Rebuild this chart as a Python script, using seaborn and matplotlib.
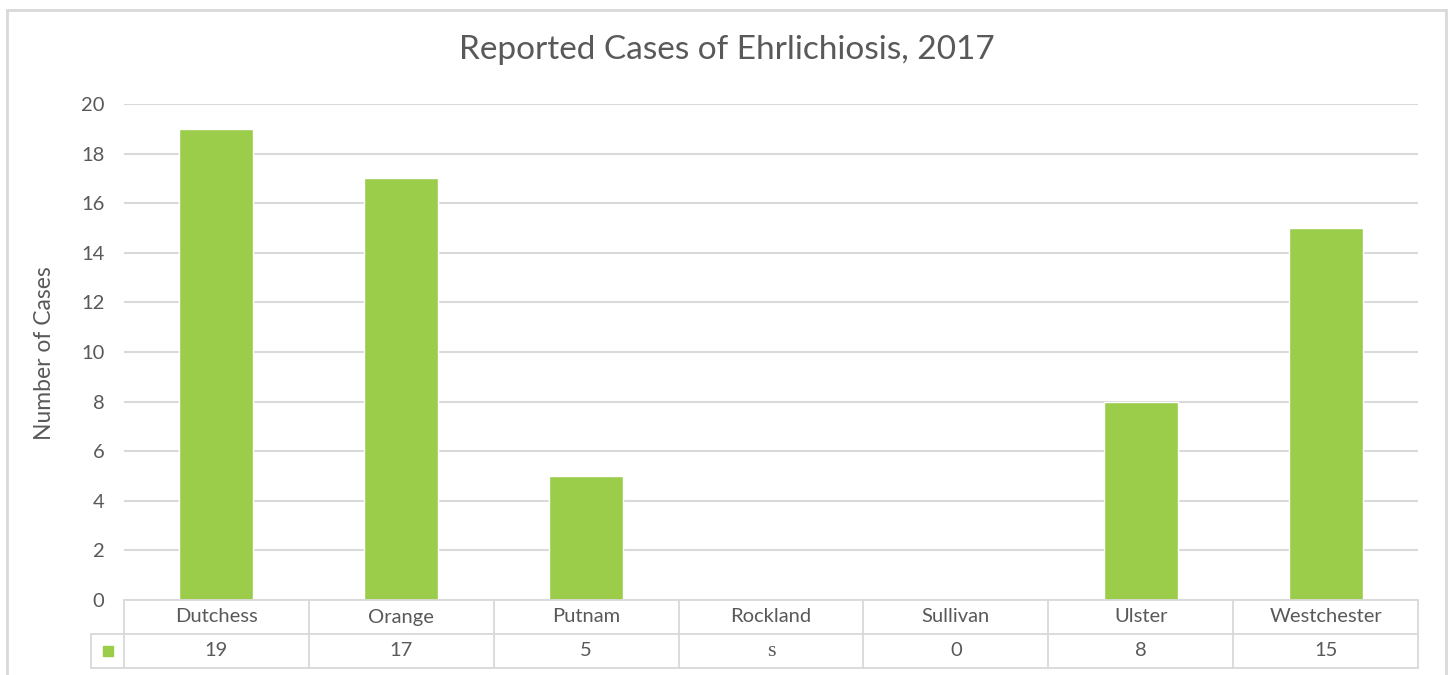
import numpy as np
import pandas as pd
import seaborn as sns
import matplotlib.pyplot as plt
from matplotlib.patches import Rectangle

counties = ["Dutchess", "Orange", "Putnam", "Rockland", "Sullivan", "Ulster", "Westchester"]
cases = [19, 17, 5, np.nan, 0, 8, 15]
table_labels = ["19", "17", "5", "s", "0", "8", "15"]

bar_color = "#9BCD4B"
text_color = "#595959"
grid_color = "#D9D9D9"

sns.set_style("white")
plt.rcParams["font.family"] = ["Lato", "DejaVu Sans"]

df = pd.DataFrame({"county": counties, "cases": cases})

fig = plt.figure(figsize=(14.48, 6.75), dpi=100)
ax = fig.add_axes([124 / 1448, 1 - 600 / 675, (1418 - 124) / 1448, (600 - 104) / 675])

sns.barplot(data=df, x="county", y="cases", order=counties, color=bar_color,
            width=0.4, saturation=1, ax=ax, errorbar=None)

ax.set_ylim(0, 20)
ax.set_xlim(-0.5, len(counties) - 0.5)
ax.set_yticks(range(0, 21, 2))
ax.yaxis.grid(True, color=grid_color, linewidth=1.5)
ax.set_axisbelow(True)
for s in ax.spines.values():
    s.set_visible(False)
ax.tick_params(axis="y", length=0, pad=14, labelsize=14.5, labelcolor=text_color)
ax.set_xticks([])
ax.set_xlabel("")
ax.set_ylabel("")
fig.text(45 / 1448, 1 - 353 / 675, "Number of Cases", rotation=90, ha="center", va="center",
         fontsize=16.5, color=text_color)
fig.text(727 / 1448, 1 - 50 / 675, "Reported Cases of Ehrlichiosis, 2017", ha="center",
         va="center", fontsize=24, color=text_color)

# data table under the axis
tr = ax.get_xaxis_transform()
h_row = 34 / 496
key_left = -0.5 - 33 / 185
n = len(counties)
lw = 1.3
ax.plot([-0.5, n - 0.5], [0, 0], color=grid_color, lw=lw, transform=tr, clip_on=False)
ax.plot([key_left, n - 0.5], [-h_row, -h_row], color=grid_color, lw=lw, transform=tr, clip_on=False)
ax.plot([key_left, n - 0.5], [-2 * h_row, -2 * h_row], color=grid_color, lw=lw, transform=tr, clip_on=False)
ax.plot([key_left, key_left], [-h_row, -2 * h_row], color=grid_color, lw=lw, transform=tr, clip_on=False)
for i in range(n + 1):
    ax.plot([i - 0.5, i - 0.5], [0, -2 * h_row], color=grid_color, lw=lw, transform=tr, clip_on=False)

for i, (c, v) in enumerate(zip(counties, table_labels)):
    ax.text(i, -0.5 * h_row, c, ha="center", va="center", fontsize=14.5,
            color=text_color, transform=tr)
    fam = ["Liberation Serif"] if v == "s" else ["Lato", "DejaVu Sans"]
    ax.text(i, -1.5 * h_row, v, ha="center", va="center", fontsize=16 if v == "s" else 14.5,
            color=text_color, transform=tr, family=fam)

ax.plot([(key_left - 0.5) / 2], [-1.5 * h_row], marker="s", markersize=7, color=bar_color,
        transform=tr, clip_on=False, linestyle="none")

# outer chart frame
fig.patches.append(Rectangle((7 / 1448, -0.1), (1446 - 7) / 1448, 1.1 - 10 / 675,
                             transform=fig.transFigure, fill=False,
                             edgecolor=grid_color, linewidth=2))

fig.savefig("out.png", dpi=100)
